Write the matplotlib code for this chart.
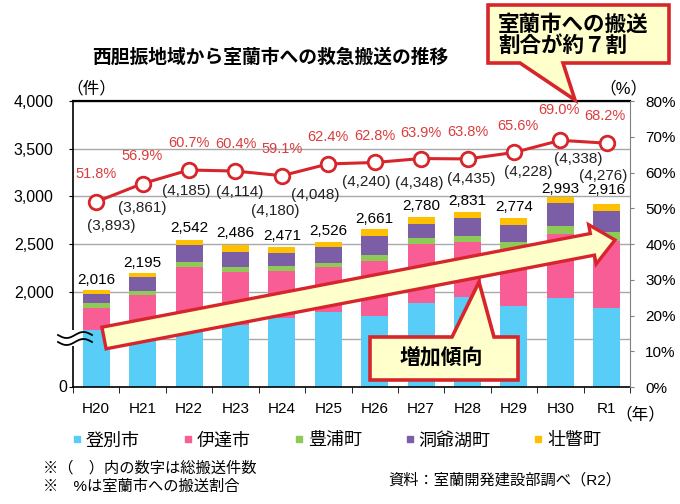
import numpy as np
import matplotlib
matplotlib.use("Agg")
import matplotlib.pyplot as plt
from matplotlib.patches import Polygon, Rectangle
from matplotlib.lines import Line2D

plt.rcParams['font.family'] = ['Liberation Sans', 'Noto Sans CJK JP', 'DejaVu Sans']

# ---------------- data ----------------
years = ['H20', 'H21', 'H22', 'H23', 'H24', 'H25', 'H26', 'H27', 'H28', 'H29', 'H30', 'R1']
noboribetsu = [1600, 1650, 1700, 1650, 1720, 1790, 1740, 1880, 1940, 1850, 1930, 1830]
date_city   = [225, 311, 555, 553, 493, 465, 578, 620, 578, 598, 676, 706]
toyoura     = [52, 49, 60, 52, 60, 46, 67, 60, 63, 70, 80, 91]
toyako      = [98, 140, 171, 165, 129, 171, 203, 151, 193, 186, 245, 224]
sobetsu     = [41, 45, 56, 66, 69, 54, 73, 69, 57, 70, 62, 65]
totals      = [2016, 2195, 2542, 2486, 2471, 2526, 2661, 2780, 2831, 2774, 2993, 2916]
share_pct   = [51.8, 56.9, 60.7, 60.4, 59.1, 62.4, 62.8, 63.9, 63.8, 65.6, 69.0, 68.2]
all_counts  = [3893, 3861, 4185, 4114, 4180, 4048, 4240, 4348, 4435, 4228, 4338, 4276]
series_names = ['登別市', '伊達市', '豊浦町', '洞爺湖町', '壮瞥町']

colors = ['#57CDF7', '#F85D96', '#8ECA56', '#7B5EA6', '#FFC000']
RED = '#D7262B'
LABEL_RED = '#DC3C3C'

W, H = 680, 504
fig = plt.figure(figsize=(6.8, 5.04), dpi=100)

def fx(x):
    return x / W

def fy(y):
    return 1 - y / H

ax = fig.add_axes([fx(73), fy(387), (630 - 73) / W, (387 - 101) / H])
x = np.arange(len(years))

series = [noboribetsu, date_city, toyoura, toyako, sobetsu]
bottom = np.zeros(len(years))
for vals, c in zip(series, colors):
    ax.bar(x, vals, bottom=bottom, width=0.58, color=c, zorder=2)
    bottom = bottom + np.array(vals)

ax.set_xlim(-0.5, len(years) - 0.5)
ax.set_ylim(1000, 4000)
ax.set_yticks([1000, 1500, 2000, 2500, 3000, 3500, 4000])
ax.set_yticklabels(['', '', '2,000', '2,500', '3,000', '3,500', '4,000'], fontsize=11.5)
ax.tick_params(axis='y', direction='out', length=3, pad=11, color='black')
ax.yaxis.grid(True, color='#A8A8A8', linewidth=1.0)
ax.set_axisbelow(True)
ax.set_xticks(x)
ax.set_xticklabels(years, fontsize=11)
ax.tick_params(axis='x', which='major', length=0, pad=11)
ax.set_xticks(np.arange(-0.5, len(years) + 0.5, 1), minor=True)
ax.tick_params(axis='x', which='minor', direction='out', length=4, color='black')
for s in ['left', 'bottom', 'top']:
    ax.spines[s].set_color('black')
ax.spines['top'].set_linewidth(1.6)
ax.spines['left'].set_linewidth(1.2)
ax.spines['bottom'].set_linewidth(1.2)
ax.spines['right'].set_visible(False)

ax.annotate('0', xy=(0, 1000), xycoords=('axes fraction', 'data'), xytext=(-4, 0),
            textcoords='offset points', ha='right', va='center', fontsize=11.5)

# totals above bars
tot_dy = [-10, -10, -12, -12, -11, -11, -10, -11, -11, -11, -8, -14]
for i, t in enumerate(totals):
    ax.annotate(f'{t:,}', xy=(i, t), xytext=(0, -tot_dy[i] * 0.72), textcoords='offset points',
                ha='center', va='center', fontsize=11, zorder=5)

# ---------------- right axis / line ----------------
ax2 = ax.twinx()
ax2.set_ylim(0, 80)
ax2.set_yticks(range(0, 81, 10))
ax2.set_yticklabels([f'{v}%' for v in range(0, 81, 10)], fontsize=11)
ax2.tick_params(axis='y', direction='out', length=3, pad=8, color='#808080')
ax2.spines['right'].set_color('#808080')
for s in ['left', 'top', 'bottom']:
    ax2.spines[s].set_visible(False)
ax2.plot(x, share_pct, color=RED, linewidth=2.2, marker='o', markersize=10.5,
         markerfacecolor='white', markeredgecolor=RED, markeredgewidth=2.0, zorder=4)

pct_off = [(0, -28), (-1, -28), (0, -27), (0, -27), (0, -27), (0, -27), (0, -26), (0, -26),
           (0, -27), (4, -26), (-1, -30), (-2, -27)]
cnt_off = [(15, 24), (0, 24), (-3, 21), (4, 21), (-7, 35), (-13, 31), (-8, 20), (-2, 24),
           (4, 20), (14, 20), (18, 19), (-4, 33)]
for i, (p, n) in enumerate(zip(share_pct, all_counts)):
    dx, dy = pct_off[i]
    ax2.annotate(f'{p:.1f}%', xy=(i, p), xytext=(dx * 0.72, -dy * 0.72), textcoords='offset points',
                 ha='center', va='center', fontsize=10.5, color=LABEL_RED, zorder=6)
    dx, dy = cnt_off[i]
    ax2.annotate(f'({n:,})', xy=(i, p), xytext=(dx * 0.72, -dy * 0.72), textcoords='offset points',
                 ha='center', va='center', fontsize=11, color='#222222', zorder=6)

# ---------------- axis break mark ----------------
fig.add_artist(Rectangle((fx(66), fy(346)), fx(14), (346 - 330) / H, transform=fig.transFigure,
                         facecolor='white', edgecolor='none', zorder=10))
wx = np.linspace(58, 92, 60)
for base in (335, 342):
    wy = base + 3.0 * np.sin((wx - 58) / 34 * 2 * np.pi)
    fig.add_artist(Line2D(fx(wx), fy(wy), transform=fig.transFigure, color='black',
                          linewidth=1.3, zorder=11))

# ---------------- big arrow ----------------
T = np.array([104.0, 338.0])
P = np.array([615.0, 240.0])
u = (P - T) / np.linalg.norm(P - T)
nrm = np.array([-u[1], u[0]])
wsh, whd, Lh = 11.0, 20.0, 23.0
B = P - Lh * u
pts = [T + wsh * nrm, B + wsh * nrm, B + whd * nrm, P, B - whd * nrm, B - wsh * nrm, T - wsh * nrm]
fig.add_artist(Polygon([(fx(p[0]), fy(p[1])) for p in pts], closed=True, transform=fig.transFigure,
                       facecolor='#FFFFCC', edgecolor=RED, linewidth=2.4, joinstyle='miter', zorder=8))

# ---------------- callouts ----------------
c1 = [(488, 5), (669, 5), (669, 63), (563, 63), (575, 100), (520, 63), (488, 63)]
fig.add_artist(Polygon([(fx(a), fy(b)) for a, b in c1], closed=True, transform=fig.transFigure,
                       facecolor='#FFFFCC', edgecolor=RED, linewidth=2.6, joinstyle='miter', zorder=8))
fig.text(fx(498), fy(36), '室蘭市への搬送\n割合が約７割', ha='left', va='center', fontsize=15.5,
         fontweight='bold', linespacing=1.05, zorder=9)

c2 = [(370, 337), (452, 337), (479, 282), (494, 337), (518, 337), (518, 380), (370, 380)]
fig.add_artist(Polygon([(fx(a), fy(b)) for a, b in c2], closed=True, transform=fig.transFigure,
                       facecolor='#FFFFCC', edgecolor=RED, linewidth=2.6, joinstyle='miter', zorder=8))
fig.text(fx(441), fy(358), '増加傾向', ha='center', va='center', fontsize=15,
         fontweight='bold', zorder=9)

# ---------------- texts ----------------
fig.text(fx(270), fy(57), '西胆振地域から室蘭市への救急搬送の推移', ha='center', va='center',
         fontsize=13.5, fontweight='bold')
fig.text(fx(91), fy(88), '（件）', ha='center', va='center', fontsize=12)
fig.text(fx(623), fy(88), '（%）', ha='center', va='center', fontsize=12)
fig.text(fx(640), fy(414), '（年）', ha='center', va='center', fontsize=12)

handles = [Line2D([], [], marker='s', linestyle='none', markersize=4.5, markerfacecolor=c,
                  markeredgecolor=c) for c in colors]
fig.legend(handles, series_names, loc='center', bbox_to_anchor=(fx(337), fy(441)), ncol=5,
           frameon=False, fontsize=13, handlelength=0.5, handletextpad=0.25, columnspacing=2.4,
           borderaxespad=0, borderpad=0)

fig.text(fx(43), fy(468), '※（　）内の数字は総搬送件数', ha='left', va='center', fontsize=11)
fig.text(fx(43), fy(487), '※　%は室蘭市への搬送割合', ha='left', va='center', fontsize=11)
fig.text(fx(388), fy(480), '資料：室蘭開発建設部調べ（R2）', ha='left', va='center', fontsize=11)

fig.savefig('out.png', dpi=100)
